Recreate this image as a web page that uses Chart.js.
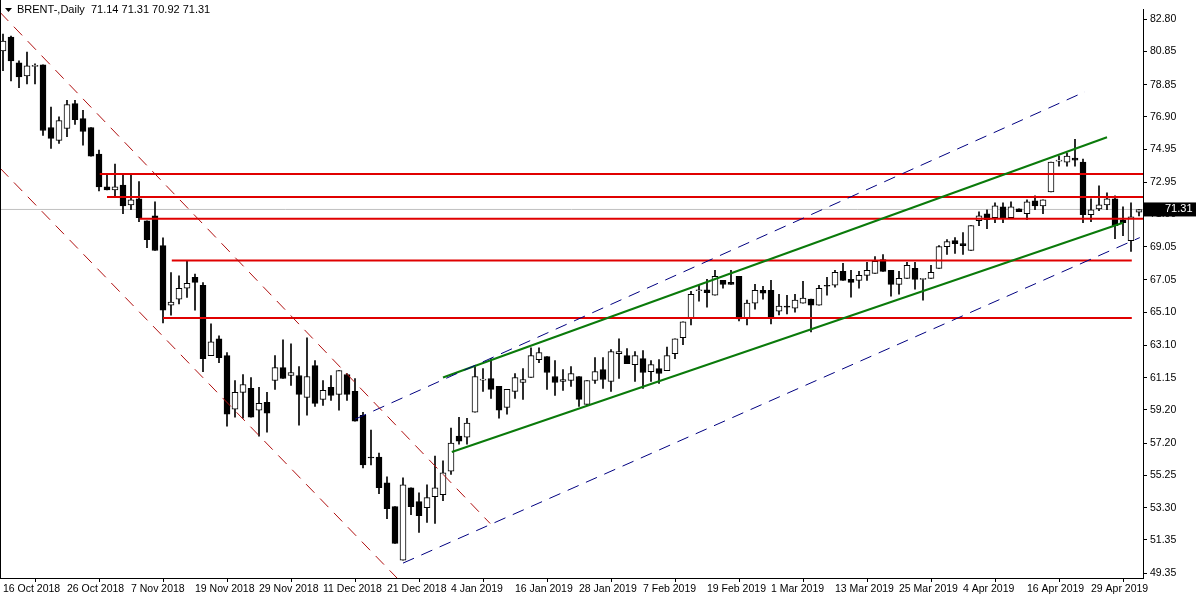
<!DOCTYPE html>
<html>
<head>
<meta charset="utf-8">
<script src="https://cdn.jsdelivr.net/npm/chart.js@4.4.1/dist/chart.umd.min.js"></script>
<style>
  html, body { margin: 0; padding: 0; background: #fff; }
  #wrap { width: 1200px; height: 600px; }
</style>
</head>
<body>
<div id="wrap"><canvas id="chart" width="1200" height="600"></canvas></div>
<script>
// Daily candles, 16 Oct 2018 .. 7 May 2019 (one value per bar)
const opens = [80.88,81.72,80.16,79.38,79.95,80.04,76.26,75.48,76.20,77.70,76.80,76.26,74.65,72.67,72.49,72.79,71.59,71.95,70.63,70.93,
  69.13,65.53,65.89,66.55,67.21,66.73,62.48,63.50,62.48,59.24,60.26,60.50,59.18,59.66,60.98,61.76,61.28,61.28,59.96,61.88,
  59.84,60.56,60.14,61.34,60.32,58.88,56.36,56.36,54.80,53.36,50.12,54.50,53.66,53.30,53.96,54.08,55.50,57.62,57.56,59.06,
  61.00,61.10,60.62,59.36,60.32,60.86,61.16,62.24,62.42,61.22,60.92,60.98,61.22,59.54,60.98,61.64,60.92,62.60,62.48,61.94,
  62.30,61.52,61.70,61.58,62.60,63.56,64.76,66.40,66.46,66.13,67.03,66.91,67.27,64.76,65.65,66.43,66.43,65.17,65.47,65.35,
  65.65,65.89,65.53,66.73,66.73,67.57,67.09,67.03,67.33,67.45,68.29,67.63,66.79,67.15,67.75,67.09,67.15,67.75,69.07,69.43,
  69.25,68.83,70.63,71.05,70.81,71.47,70.81,71.35,71.05,71.83,71.53,72.37,74.23,74.17,74.41,74.17,70.99,71.35,71.59,71.95,
  70.69,69.43,71.14];
const highs = [81.90,81.78,80.28,80.82,80.10,80.04,77.50,76.90,77.90,77.90,77.30,76.26,74.90,73.40,74.05,73.40,73.40,73.00,70.63,71.77,
  69.60,67.50,67.30,68.20,67.40,66.90,64.40,63.68,62.66,60.98,61.34,61.16,60.56,60.26,62.48,63.44,63.20,61.82,63.56,62.18,
  60.98,61.28,61.58,61.40,61.10,59.06,57.98,56.60,55.16,53.36,55.10,54.50,54.20,54.68,56.42,56.12,58.10,58.76,58.70,61.82,
  61.70,62.30,60.62,60.44,61.40,61.70,62.96,62.96,62.42,62.18,61.64,61.82,61.22,60.98,62.36,62.36,62.84,63.50,62.90,62.72,
  62.78,62.18,62.24,63.00,63.50,64.52,66.37,66.73,67.09,67.63,67.03,67.63,67.27,65.83,66.79,66.67,67.03,66.19,66.13,66.19,
  66.97,65.89,66.73,67.21,67.63,68.05,67.63,67.57,68.11,68.47,68.59,67.63,67.57,68.11,68.11,67.15,67.93,69.13,69.49,69.61,
  69.91,70.33,71.17,71.29,71.71,71.71,71.77,71.35,71.89,72.13,71.89,74.17,74.53,74.71,75.55,74.35,71.95,72.73,72.31,72.13,
  71.47,71.71,71.31];
const lows = [79.70,79.08,78.66,78.90,78.90,75.78,75.00,75.30,75.70,76.45,75.20,74.53,72.43,72.49,72.13,71.05,71.30,70.57,69.00,68.83,
  64.45,64.93,65.60,66.00,65.23,61.52,62.48,62.05,58.22,58.76,58.70,58.76,57.62,57.86,60.44,61.10,60.68,58.28,58.88,59.42,
  59.48,59.78,59.18,59.78,58.52,55.70,55.88,54.14,52.64,51.14,50.12,52.88,51.80,52.40,52.34,53.72,55.30,57.14,57.14,59.06,
  60.32,59.90,58.70,58.94,59.90,59.84,61.16,62.06,60.44,60.08,60.38,60.62,59.42,59.54,60.80,60.50,60.32,61.10,62.00,60.92,
  60.50,60.92,60.80,61.58,62.30,63.14,64.34,65.77,65.41,66.13,66.55,66.79,64.58,64.34,65.29,65.89,64.40,64.94,65.00,65.11,
  65.65,63.92,65.53,66.13,66.61,67.03,66.01,66.55,67.03,67.45,67.57,66.07,66.19,67.15,66.49,65.83,67.15,67.75,68.59,68.65,
  68.59,68.83,70.33,70.15,70.51,70.51,70.75,71.17,70.69,71.29,71.05,72.37,73.93,73.93,73.93,70.51,70.57,71.23,71.29,69.55,
  69.73,68.77,70.92];
const closes = [81.48,80.28,79.32,79.98,80.00,76.08,75.60,76.68,77.64,76.74,76.02,74.53,72.67,72.49,72.67,71.53,71.89,70.81,69.49,68.83,
  65.23,65.71,66.55,66.85,66.91,62.30,63.32,62.36,58.94,60.26,60.74,58.76,59.60,59.00,61.76,61.10,61.46,60.14,61.22,59.60,
  60.38,60.08,61.58,60.14,58.52,55.88,56.30,54.50,53.24,51.14,54.68,53.36,52.82,53.90,54.50,55.40,57.20,57.32,58.40,61.22,
  61.05,60.44,59.18,60.44,61.16,61.04,62.48,62.66,61.46,60.86,61.04,61.40,59.84,60.98,61.52,61.04,62.72,62.72,62.00,62.48,
  61.46,61.94,61.40,62.48,63.50,64.52,66.19,66.46,66.28,67.27,66.79,66.79,64.70,65.65,66.43,66.25,64.76,65.47,65.41,65.83,
  65.95,65.53,66.55,66.67,67.51,67.03,66.91,67.33,67.63,68.17,67.57,66.79,67.15,67.93,67.09,67.15,67.51,69.07,69.37,69.25,
  69.13,70.33,70.93,70.69,71.53,70.81,71.47,71.17,71.77,71.53,71.89,74.17,74.29,74.53,74.29,70.99,71.29,71.59,71.95,70.33,
  70.51,70.87,71.31];

// axis labels
const dateLabels = ['16 Oct 2018','26 Oct 2018','7 Nov 2018','19 Nov 2018','29 Nov 2018','11 Dec 2018','21 Dec 2018',
  '4 Jan 2019','16 Jan 2019','28 Jan 2019','7 Feb 2019','19 Feb 2019','1 Mar 2019','13 Mar 2019','25 Mar 2019',
  '4 Apr 2019','16 Apr 2019','29 Apr 2019'];
const priceTicks = [82.80,80.85,78.85,76.90,74.95,72.95,71.00,69.05,67.05,65.10,63.10,61.15,59.20,57.20,55.25,53.30,51.35,49.35];

// drawn objects: [x1, y1, x2, y2] in bar index / price
const redLevels = [[12.1,73.45,142.5,73.45],[13,72.07,142.5,72.07],[17.1,70.75,142.5,70.75],[21.1,68.23,141.1,68.23],[20,64.75,141.1,64.75]];
const redChannel = [[-0.375,83.22,60.9,52.34],[-0.375,73.81,49.25,49.05]];
const blueChannel = [[44,58.64,135.25,78.42],[50,49.95,142.1,69.61]];
const greenChannel = [[55,61.16,138,75.67],[56.1,56.66,140,70.51]];
const lastPrice = 71.31;

const idx = closes.map((c, i) => i);
const bull = idx.map(i => closes[i] >= opens[i]);

function seg(s, color, width, dash) {
  return { type: 'line', data: [{x: s[0], y: s[1]}, {x: s[2], y: s[3]}], borderColor: color,
    borderWidth: width, borderDash: dash, pointRadius: 0, order: 0, parsing: false };
}

const lineSets = [
  seg([-0.375, lastPrice, 142.5, lastPrice], '#c0c0c0', 1, []),
  ...redChannel.map(s => seg(s, '#b01010', 1, [12, 8])),
  ...blueChannel.map(s => seg(s, '#000080', 1, [12, 8])),
  ...greenChannel.map(s => seg(s, '#0a7a0a', 2, [])),
  ...redLevels.map(s => seg(s, '#e00000', 2, [])),
];
lineSets[0].order = 5;

// header + last price box
const overlay = {
  id: 'overlay',
  afterDraw(chart) {
    const ctx = chart.ctx, a = chart.chartArea;
    ctx.save();
    ctx.strokeStyle = '#000'; ctx.lineWidth = 1;
    ctx.beginPath(); ctx.moveTo(0.5, 0); ctx.lineTo(0.5, a.bottom); ctx.stroke();
    ctx.fillStyle = '#000';
    ctx.beginPath(); ctx.moveTo(5, 8); ctx.lineTo(12, 8); ctx.lineTo(8.5, 12); ctx.closePath(); ctx.fill();
    ctx.font = '11px "Liberation Sans"'; ctx.textBaseline = 'middle';
    ctx.fillText('BRENT-,Daily  71.14 71.31 70.92 71.31', 17, 10);
    const y = chart.scales.y.getPixelForValue(lastPrice);
    ctx.fillRect(a.right + 1, y - 7, 52, 14);
    ctx.fillStyle = '#fff';
    ctx.fillText(lastPrice.toFixed(2), a.right + 22, y);
    ctx.restore();
  }
};

new Chart(document.getElementById('chart'), {
  data: {
    datasets: [
      ...lineSets,
      { type: 'bar', data: idx.map(i => ({x: i, y: [lows[i], highs[i]]})), backgroundColor: '#000',
        barThickness: 1, grouped: false, order: 3 },
      { type: 'bar', data: idx.map(i => ({x: i, y: [opens[i], closes[i]]})),
        backgroundColor: idx.map(i => bull[i] ? '#fff' : '#000'), borderColor: '#000', borderWidth: 1,
        borderSkipped: false, barThickness: 6, grouped: false, order: 2, minBarLength: 1 }
    ]
  },
  options: {
    responsive: false, animation: false,
    layout: { padding: { top: 2, left: 0 } },
    plugins: { legend: { display: false }, tooltip: { enabled: false } },
    scales: {
      x: {
        type: 'linear', min: -0.375, max: 142.5, offset: false,
        afterBuildTicks: ax => { ax.ticks = dateLabels.map((d, k) => ({value: k * 8})); },
        afterFit: ax => { ax.height = 22; },
        ticks: { callback: (v, k) => dateLabels[k], align: 'start', maxRotation: 0, autoSkip: false,
          color: '#000', font: { family: 'Liberation Sans', size: 10.5 }, padding: 1 },
        grid: { drawOnChartArea: false, tickLength: 4, color: '#000' },
        border: { color: '#000' }
      },
      y: {
        position: 'right', min: 49.05, max: 83.40,
        afterBuildTicks: ax => { ax.ticks = priceTicks.map(v => ({value: v})); },
        afterFit: ax => { ax.width = 57; },
        ticks: { callback: v => v.toFixed(2), color: '#000', font: { family: 'Liberation Sans', size: 10.5 }, padding: 3 },
        grid: { drawOnChartArea: false, tickLength: 4, color: '#000' },
        border: { color: '#000' }
      }
    }
  },
  plugins: [overlay]
});
</script>
</body>
</html>
